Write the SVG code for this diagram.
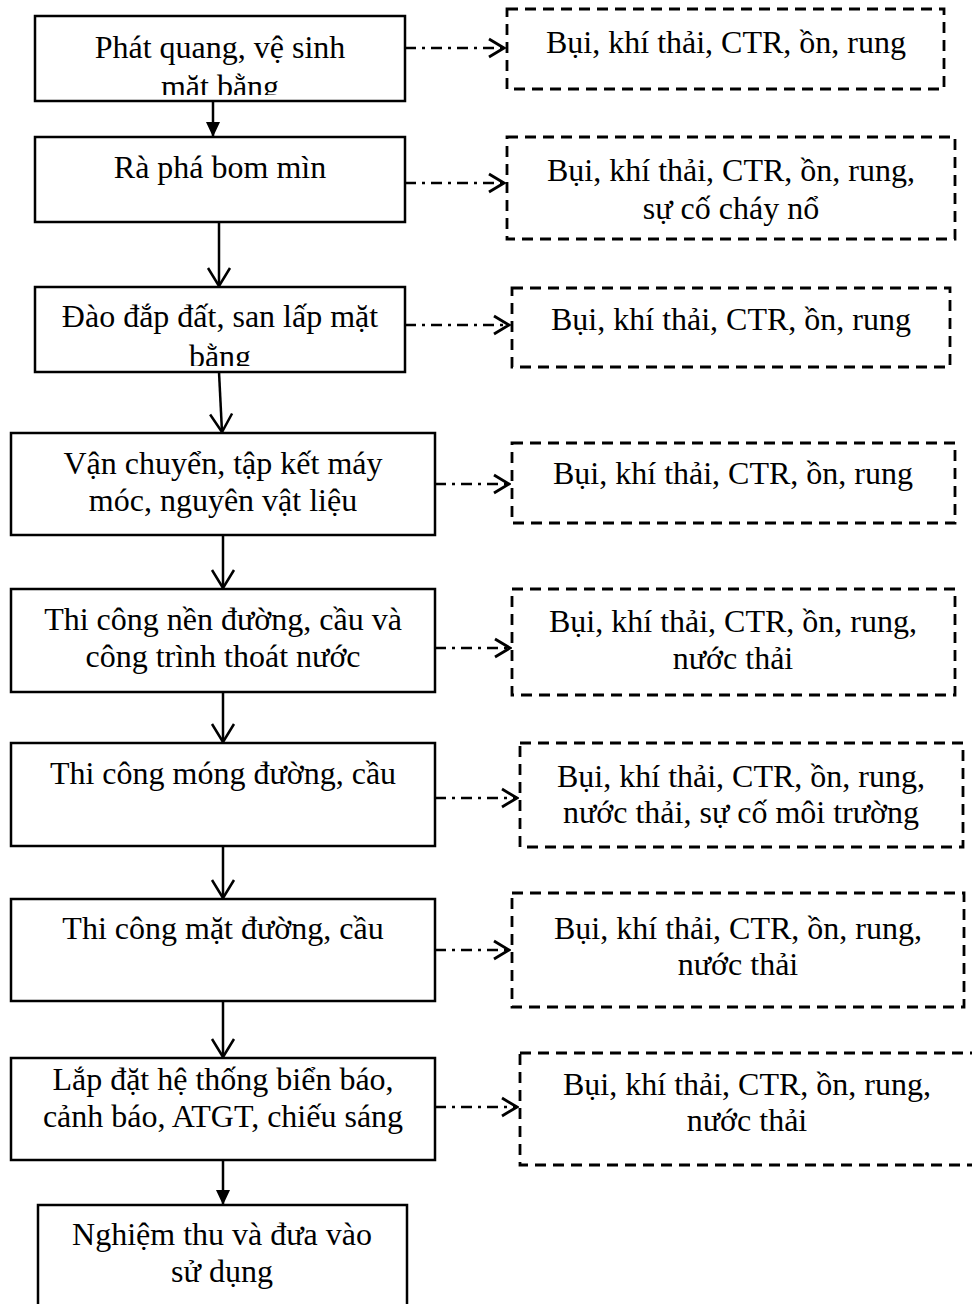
<svg xmlns="http://www.w3.org/2000/svg" width="972" height="1304" viewBox="0 0 972 1304">
<style>
.box{fill:#fff;stroke:#000;stroke-width:2.5}
.dbox{fill:#fff;stroke:#000;stroke-width:2.8;stroke-dasharray:11,7}
.t{font-family:"Liberation Serif","Times New Roman",serif;font-size:32px;fill:#000;text-anchor:middle}
.flow{stroke:#000;stroke-width:2.5;fill:none}
.dd{stroke:#000;stroke-width:2.5;fill:none;stroke-dasharray:11,6,3,6}
</style>
<defs>
<marker id="tri" markerWidth="16" markerHeight="16" refX="15" refY="8" orient="auto" markerUnits="userSpaceOnUse">
<path d="M0,1 L15,8 L0,15 Z" fill="#000"/>
</marker>
<marker id="vee" markerWidth="22" markerHeight="26" refX="19" refY="13" orient="auto" markerUnits="userSpaceOnUse">
<path d="M1,2 L19,13 L1,24" fill="none" stroke="#000" stroke-width="2.5"/>
</marker>
<marker id="veeS" markerWidth="18" markerHeight="22" refX="16" refY="11" orient="auto" markerUnits="userSpaceOnUse">
<path d="M1,2 L16,11 L1,20" fill="none" stroke="#000" stroke-width="2.8"/>
</marker>
<clipPath id="c1"><rect x="35" y="16" width="370" height="79"/></clipPath>
<clipPath id="c3"><rect x="35" y="287" width="370" height="79"/></clipPath>
</defs>

<g id="connectors">
<line class="flow" x1="213" y1="101" x2="213" y2="137" marker-end="url(#tri)"/>
<line class="flow" x1="219" y1="222" x2="219" y2="286" marker-end="url(#vee)"/>
<line class="flow" x1="219" y1="372" x2="222" y2="432" marker-end="url(#vee)"/>
<line class="flow" x1="223" y1="535" x2="223" y2="588" marker-end="url(#vee)"/>
<line class="flow" x1="223" y1="692" x2="223" y2="742" marker-end="url(#vee)"/>
<line class="flow" x1="223" y1="846" x2="223" y2="898" marker-end="url(#vee)"/>
<line class="flow" x1="223" y1="1001" x2="223" y2="1057" marker-end="url(#vee)"/>
<line class="flow" x1="223" y1="1160" x2="223" y2="1205" marker-end="url(#tri)"/>
<line class="dd" x1="405" y1="48" x2="504" y2="48" marker-end="url(#veeS)"/>
<line class="dd" x1="405" y1="183" x2="504" y2="183" marker-end="url(#veeS)"/>
<line class="dd" x1="405" y1="325" x2="509" y2="325" marker-end="url(#veeS)"/>
<line class="dd" x1="435" y1="484" x2="509" y2="484" marker-end="url(#veeS)"/>
<line class="dd" x1="435" y1="648" x2="510" y2="648" marker-end="url(#veeS)"/>
<line class="dd" x1="435" y1="798" x2="517" y2="798" marker-end="url(#veeS)"/>
<line class="dd" x1="435" y1="950" x2="509" y2="950" marker-end="url(#veeS)"/>
<line class="dd" x1="435" y1="1107" x2="517" y2="1107" marker-end="url(#veeS)"/>
</g>

<g id="n1">
<rect class="box" x="35" y="16" width="370" height="85"/>
<g clip-path="url(#c1)">
<text class="t" x="220" y="58">Phát quang, vệ sinh</text>
<text class="t" x="220" y="97">mặt bằng</text>
</g>
</g>
<g id="n2">
<rect class="box" x="35" y="137" width="370" height="85"/>
<text class="t" x="220" y="178">Rà phá bom mìn</text>
</g>
<g id="n3">
<rect class="box" x="35" y="287" width="370" height="85"/>
<g clip-path="url(#c3)">
<text class="t" x="220" y="327">Đào đắp đất, san lấp mặt</text>
<text class="t" x="220" y="367">bằng</text>
</g>
</g>
<g id="n4">
<rect class="box" x="11" y="433" width="424" height="102"/>
<text class="t" x="223" y="474">Vận chuyển, tập kết máy</text>
<text class="t" x="223" y="511">móc, nguyên vật liệu</text>
</g>
<g id="n5">
<rect class="box" x="11" y="589" width="424" height="103"/>
<text class="t" x="223" y="630">Thi công nền đường, cầu và</text>
<text class="t" x="223" y="667">công trình thoát nước</text>
</g>
<g id="n6">
<rect class="box" x="11" y="743" width="424" height="103"/>
<text class="t" x="223" y="784">Thi công móng đường, cầu</text>
</g>
<g id="n7">
<rect class="box" x="11" y="899" width="424" height="102"/>
<text class="t" x="223" y="939">Thi công mặt đường, cầu</text>
</g>
<g id="n8">
<rect class="box" x="11" y="1058" width="424" height="102"/>
<text class="t" x="223" y="1090">Lắp đặt hệ thống biển báo,</text>
<text class="t" x="223" y="1127">cảnh báo, ATGT, chiếu sáng</text>
</g>
<g id="n9">
<rect class="box" x="38" y="1205" width="369" height="110"/>
<text class="t" x="222" y="1245">Nghiệm thu và đưa vào</text>
<text class="t" x="222" y="1282">sử dụng</text>
</g>

<g id="d1">
<rect class="dbox" x="507" y="9" width="437" height="80"/>
<text class="t" x="726" y="53">Bụi, khí thải, CTR, ồn, rung</text>
</g>
<g id="d2">
<rect class="dbox" x="507" y="137" width="448" height="102"/>
<text class="t" x="731" y="181">Bụi, khí thải, CTR, ồn, rung,</text>
<text class="t" x="731" y="219">sự cố cháy nổ</text>
</g>
<g id="d3">
<rect class="dbox" x="512" y="288" width="438" height="79"/>
<text class="t" x="731" y="330">Bụi, khí thải, CTR, ồn, rung</text>
</g>
<g id="d4">
<rect class="dbox" x="512" y="443" width="443" height="80"/>
<text class="t" x="733" y="484">Bụi, khí thải, CTR, ồn, rung</text>
</g>
<g id="d5">
<rect class="dbox" x="512" y="589" width="443" height="106"/>
<text class="t" x="733" y="632">Bụi, khí thải, CTR, ồn, rung,</text>
<text class="t" x="733" y="669">nước thải</text>
</g>
<g id="d6">
<rect class="dbox" x="520" y="743" width="443" height="104"/>
<text class="t" x="741" y="787">Bụi, khí thải, CTR, ồn, rung,</text>
<text class="t" x="741" y="823">nước thải, sự cố môi trường</text>
</g>
<g id="d7">
<rect class="dbox" x="512" y="893" width="452" height="114"/>
<text class="t" x="738" y="939">Bụi, khí thải, CTR, ồn, rung,</text>
<text class="t" x="738" y="975">nước thải</text>
</g>
<g id="d8">
<rect class="dbox" x="520" y="1053" width="470" height="112"/>
<text class="t" x="747" y="1095">Bụi, khí thải, CTR, ồn, rung,</text>
<text class="t" x="747" y="1131">nước thải</text>
</g>
</svg>
